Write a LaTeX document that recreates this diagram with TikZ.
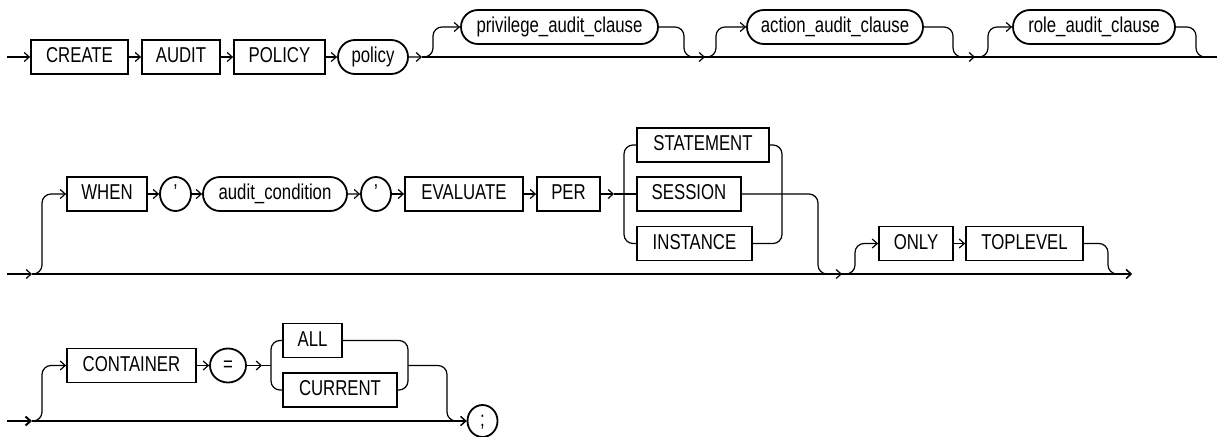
\documentclass[tikz,border=0pt]{standalone}
\usepackage{fontspec}
\setmainfont{Liberation Sans}[FakeStretch=0.78]
\usetikzlibrary{arrows.meta,shapes.geometric,shapes.misc}
\begin{document}
\begin{tikzpicture}[x=1pt,y=-1pt,
  kw/.style={draw,line width=1.8pt,rectangle,minimum height=34pt,inner sep=0pt,
    font=\fontsize{21.5}{24}\selectfont,text height=15.5pt,text depth=4.5pt},
  ov/.style={kw,rounded rectangle},
  el/.style={kw,ellipse},
  conn/.style={line width=1.2pt,rounded corners=9pt},
  arr/.style={conn,-{Straight Barb[length=5pt,width=9pt]}}]
\useasboundingbox[fill=white] (0,0) rectangle (1217,436);

% ---------- row 1 ----------
\node[kw,minimum width=97pt] (create) at (79.5,57) {CREATE};
\node[kw,minimum width=78pt] (audit) at (181,57) {AUDIT};
\node[kw,minimum width=91pt] (policyk) at (279.5,57) {POLICY};
\node[ov,minimum width=70pt] (policy) at (373,57) {policy};
\node[ov,minimum width=197pt] (priv) at (559.5,27) {privilege\_audit\_clause};
\node[ov,minimum width=176pt] (act) at (835,27) {action\_audit\_clause};
\node[ov,minimum width=162pt] (role) at (1094,27) {role\_audit\_clause};
\coordinate (s1) at (7,57);
\coordinate (j1) at (422,57);
\coordinate (j2) at (705,57);
\coordinate (j3) at (975,57);
\coordinate (e1) at (1217,57);
\draw[arr] (s1) -- (create);
\draw[arr] (create) -- (audit);
\draw[arr] (audit) -- (policyk);
\draw[arr] (policyk) -- (policy);
\draw[arr] (policy) -- (j1);
\draw[conn] (j1) -- (e1);
\draw[arr] (j1) -- (433,57) -- (433,27) -- (priv.west);
\draw[arr] (priv.east) -- (684,27) -- (684,57) -- (j2);
\draw[arr] (j2) -- (716,57) -- (716,27) -- (act.west);
\draw[arr] (act.east) -- (953,27) -- (953,57) -- (j3);
\draw[arr] (j3) -- (988,57) -- (988,27) -- (role.west);
\draw[conn] (role.east) -- (1196,27) -- (1196,57) -- (e1);

% ---------- row 2 ----------
\node[kw,minimum width=80pt] (when) at (107,194) {WHEN};
\node[el,minimum width=31pt] (q1) at (175.5,194) {'};
\node[ov,minimum width=144pt] (cond) at (275,194) {audit\_condition};
\node[el,minimum width=30pt] (q2) at (376,194) {'};
\node[kw,minimum width=118pt] (eval) at (464,194) {EVALUATE};
\node[kw,minimum width=63pt] (per) at (568.5,194) {PER};
\node[kw,minimum width=132pt] (stmt) at (703,145) {STATEMENT};
\node[kw,minimum width=104pt] (sess) at (689,194) {SESSION};
\node[kw,minimum width=115pt] (inst) at (694.5,243.5) {INSTANCE};
\node[kw,minimum width=74pt] (only) at (916,243.5) {ONLY};
\node[kw,minimum width=117pt] (top) at (1024.5,243.5) {TOPLEVEL};
\coordinate (s2) at (7,274);
\coordinate (b2) at (32,274);
\coordinate (m2) at (842,274);
\coordinate (e2) at (1132,274);
\coordinate (p2) at (614,194);
\draw[arr] (s2) -- (b2);
\draw[arr] (b2) -- (e2);
\draw[arr] (b2) -- (42,274) -- (42,194) -- (when.west);
\draw[arr] (when) -- (q1);
\draw[arr] (q1) -- (cond);
\draw[arr] (cond) -- (q2);
\draw[arr] (q2) -- (eval);
\draw[arr] (eval) -- (per);
\draw[arr] (per) -- (p2);
\draw[conn] (p2) -- (sess.west);
\draw[conn] (stmt.west) -- (624,145) -- (624,243.5) -- (inst.west);
\draw[conn] (stmt.east) -- (782,145) -- (782,243.5) -- (inst.east);
\draw[arr] (sess.east) -- (818,194) -- (818,274) -- (m2);
\draw[arr] (m2) -- (855,274) -- (855,243.5) -- (only.west);
\draw[arr] (only) -- (top);
\draw[arr] (top.east) -- (1108,243.5) -- (1108,274) -- (e2);

% ---------- row 3 ----------
\node[kw,minimum width=129pt] (cont) at (131.5,365.5) {CONTAINER};
\node[el,minimum width=36pt] (eq) at (228,365.5) {=};
\node[kw,minimum width=59pt] (all) at (312.5,340.5) {ALL};
\node[kw,minimum width=114pt] (cur) at (340,390) {CURRENT};
\node[el,minimum width=30pt,minimum height=32pt] (semi) at (482.5,421) {;};
\coordinate (s3) at (7,421);
\coordinate (b3) at (32,421);
\coordinate (p3) at (262,365.5);
\coordinate (c3) at (271,365.5);
\coordinate (r3) at (408,365.5);
\draw[arr,line width=2pt] (s3) -- (b3);
\draw[arr] (b3) -- (semi.west);
\draw[arr] (b3) -- (42,421) -- (42,365.5) -- (cont.west);
\draw[arr] (cont) -- (eq);
\draw[arr] (eq) -- (p3);
\draw[conn] (p3) -- (c3);
\draw[conn] (all.west) -- (271,340.5) -- (271,390) -- (cur.west);
\draw[conn] (all.east) -- (408,340.5) -- (408,390) -- (cur.east);
\draw[arr] (r3) -- (447,365.5) -- (447,421) -- (semi.west);
\end{tikzpicture}
\end{document}
